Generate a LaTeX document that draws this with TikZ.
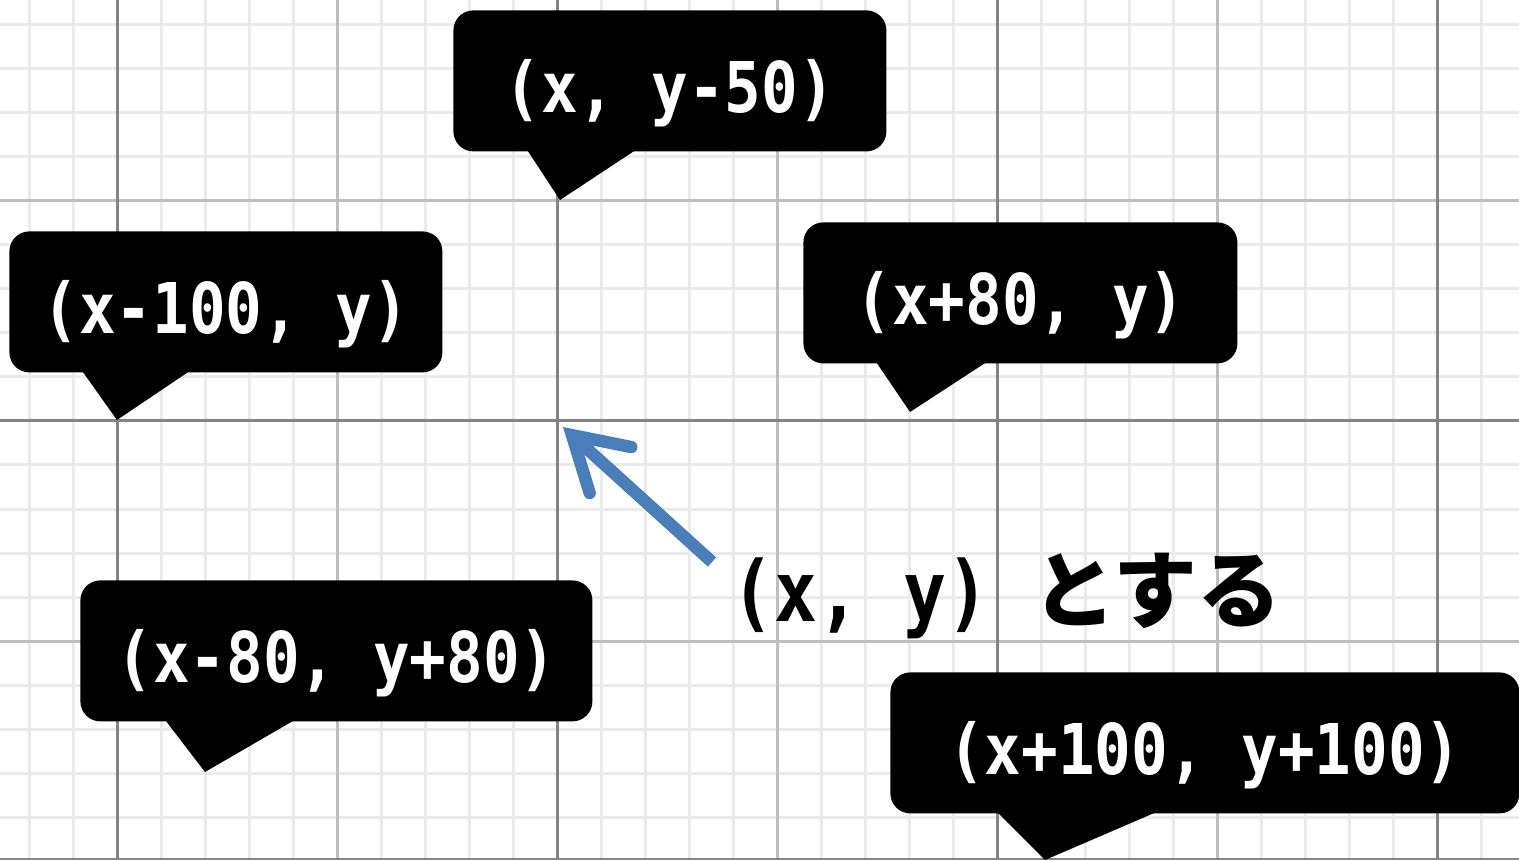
\documentclass[tikz,border=0pt]{standalone}
\usepackage{fontspec}
\usepackage{xcolor}
\usetikzlibrary{arrows.meta,positioning}
\newfontfamily\codefont[FakeStretch=0.87]{DejaVu Sans Mono}
\newfontfamily\notefont[FakeStretch=0.85]{DejaVu Sans Mono}
\newfontfamily\jpfont{Noto Sans CJK JP}
\definecolor{GridMinor}{HTML}{EBEBEB}
\definecolor{GridMid}{HTML}{BEBEBE}
\definecolor{GridMajor}{HTML}{848484}
\definecolor{ArrowBlue}{HTML}{4A7EBB}
\tikzset{
  minorline/.style={draw=GridMinor,line width=1.5pt},
  midline/.style={draw=GridMid,line width=1.5pt},
  majorline/.style={draw=GridMajor,line width=1.5pt},
  callout/.style={fill=black,rounded corners=10pt,anchor=north west,minimum height=70.5pt,inner sep=0pt,text=white,font=\codefont\bfseries\fontsize{35}{40}\selectfont,text height=32pt,text depth=0pt},
  tail/.style={fill=black},
  pointer/.style={-{Straight Barb[length=26pt,width=31pt,line cap=round,line join=miter]},draw=ArrowBlue,line width=6.2pt},
  note/.style={anchor=base west,inner sep=0pt,text=black,font=\notefont\bfseries\fontsize{42}{48}\selectfont}
}

\begin{document}
\begin{tikzpicture}[x=0.5pt,y=-0.5pt]
  \useasboundingbox (0,0) rectangle (1519,860);
  \fill[white] (0,0) rectangle (1519,860);
  % grid
  \foreach \gx in {29,73,...,1481} \draw[minorline] (\gx,0) -- (\gx,860);
  \foreach \gy in {25,69,...,861} \draw[minorline] (0,\gy) -- (1519,\gy);
  \foreach \gx in {337,777,1217} \draw[midline] (\gx,0) -- (\gx,860);
  \foreach \gy in {201,641} \draw[midline] (0,\gy) -- (1519,\gy);
  \foreach \gx in {117,557,997,1437} \draw[majorline] (\gx,0) -- (\gx,860);
  \foreach \gy in {421,859} \draw[majorline] (0,\gy) -- (1519,\gy);

  % callouts
  \node[callout,minimum width=216.5pt] (up) at (453,10) {(x, y-50)};
  \node[callout,minimum width=216.5pt] (left) at (9,231) {(x-100, y)};
  \node[callout,minimum width=217pt] (right) at (803,222) {(x+80, y)};
  \node[callout,minimum width=256pt] (downleft) at (80,580) {(x-80, y+80)};
  \node[callout,minimum width=314.5pt] (downright) at (890,672) {(x+100, y+100)};

  \coordinate (upTip) at (560,200);
  \coordinate (leftTip) at (117,420);
  \coordinate (rightTip) at (910,412);
  \coordinate (downleftTip) at (205,772);
  \coordinate (downrightTip) at (1045,860);
  \fill[tail] ([xshift=37pt,yshift=1pt]up.south west) -- (upTip) -- ([xshift=91.5pt,yshift=1pt]up.south west) -- cycle;
  \fill[tail] ([xshift=36.5pt,yshift=1pt]left.south west) -- (leftTip) -- ([xshift=90.5pt,yshift=1pt]left.south west) -- cycle;
  \fill[tail] ([xshift=36.5pt,yshift=1pt]right.south west) -- (rightTip) -- ([xshift=92pt,yshift=1pt]right.south west) -- cycle;
  \fill[tail] ([xshift=42.5pt,yshift=1pt]downleft.south west) -- (downleftTip) -- ([xshift=107.5pt,yshift=1pt]downleft.south west) -- cycle;
  \fill[tail] ([xshift=53.5pt,yshift=1pt]downright.south west) -- (downrightTip) -- ([xshift=133.5pt,yshift=1pt]downright.south west) -- cycle;

  % origin note
  \node[note] (origin) at (731,621) {(x, y) {\jpfont\bfseries とする}};
  \coordinate (arrowTail) at (712,562);
  \coordinate (arrowTip) at (563,427);
  \draw[pointer] (arrowTail) -- (arrowTip);
\end{tikzpicture}
\end{document}
